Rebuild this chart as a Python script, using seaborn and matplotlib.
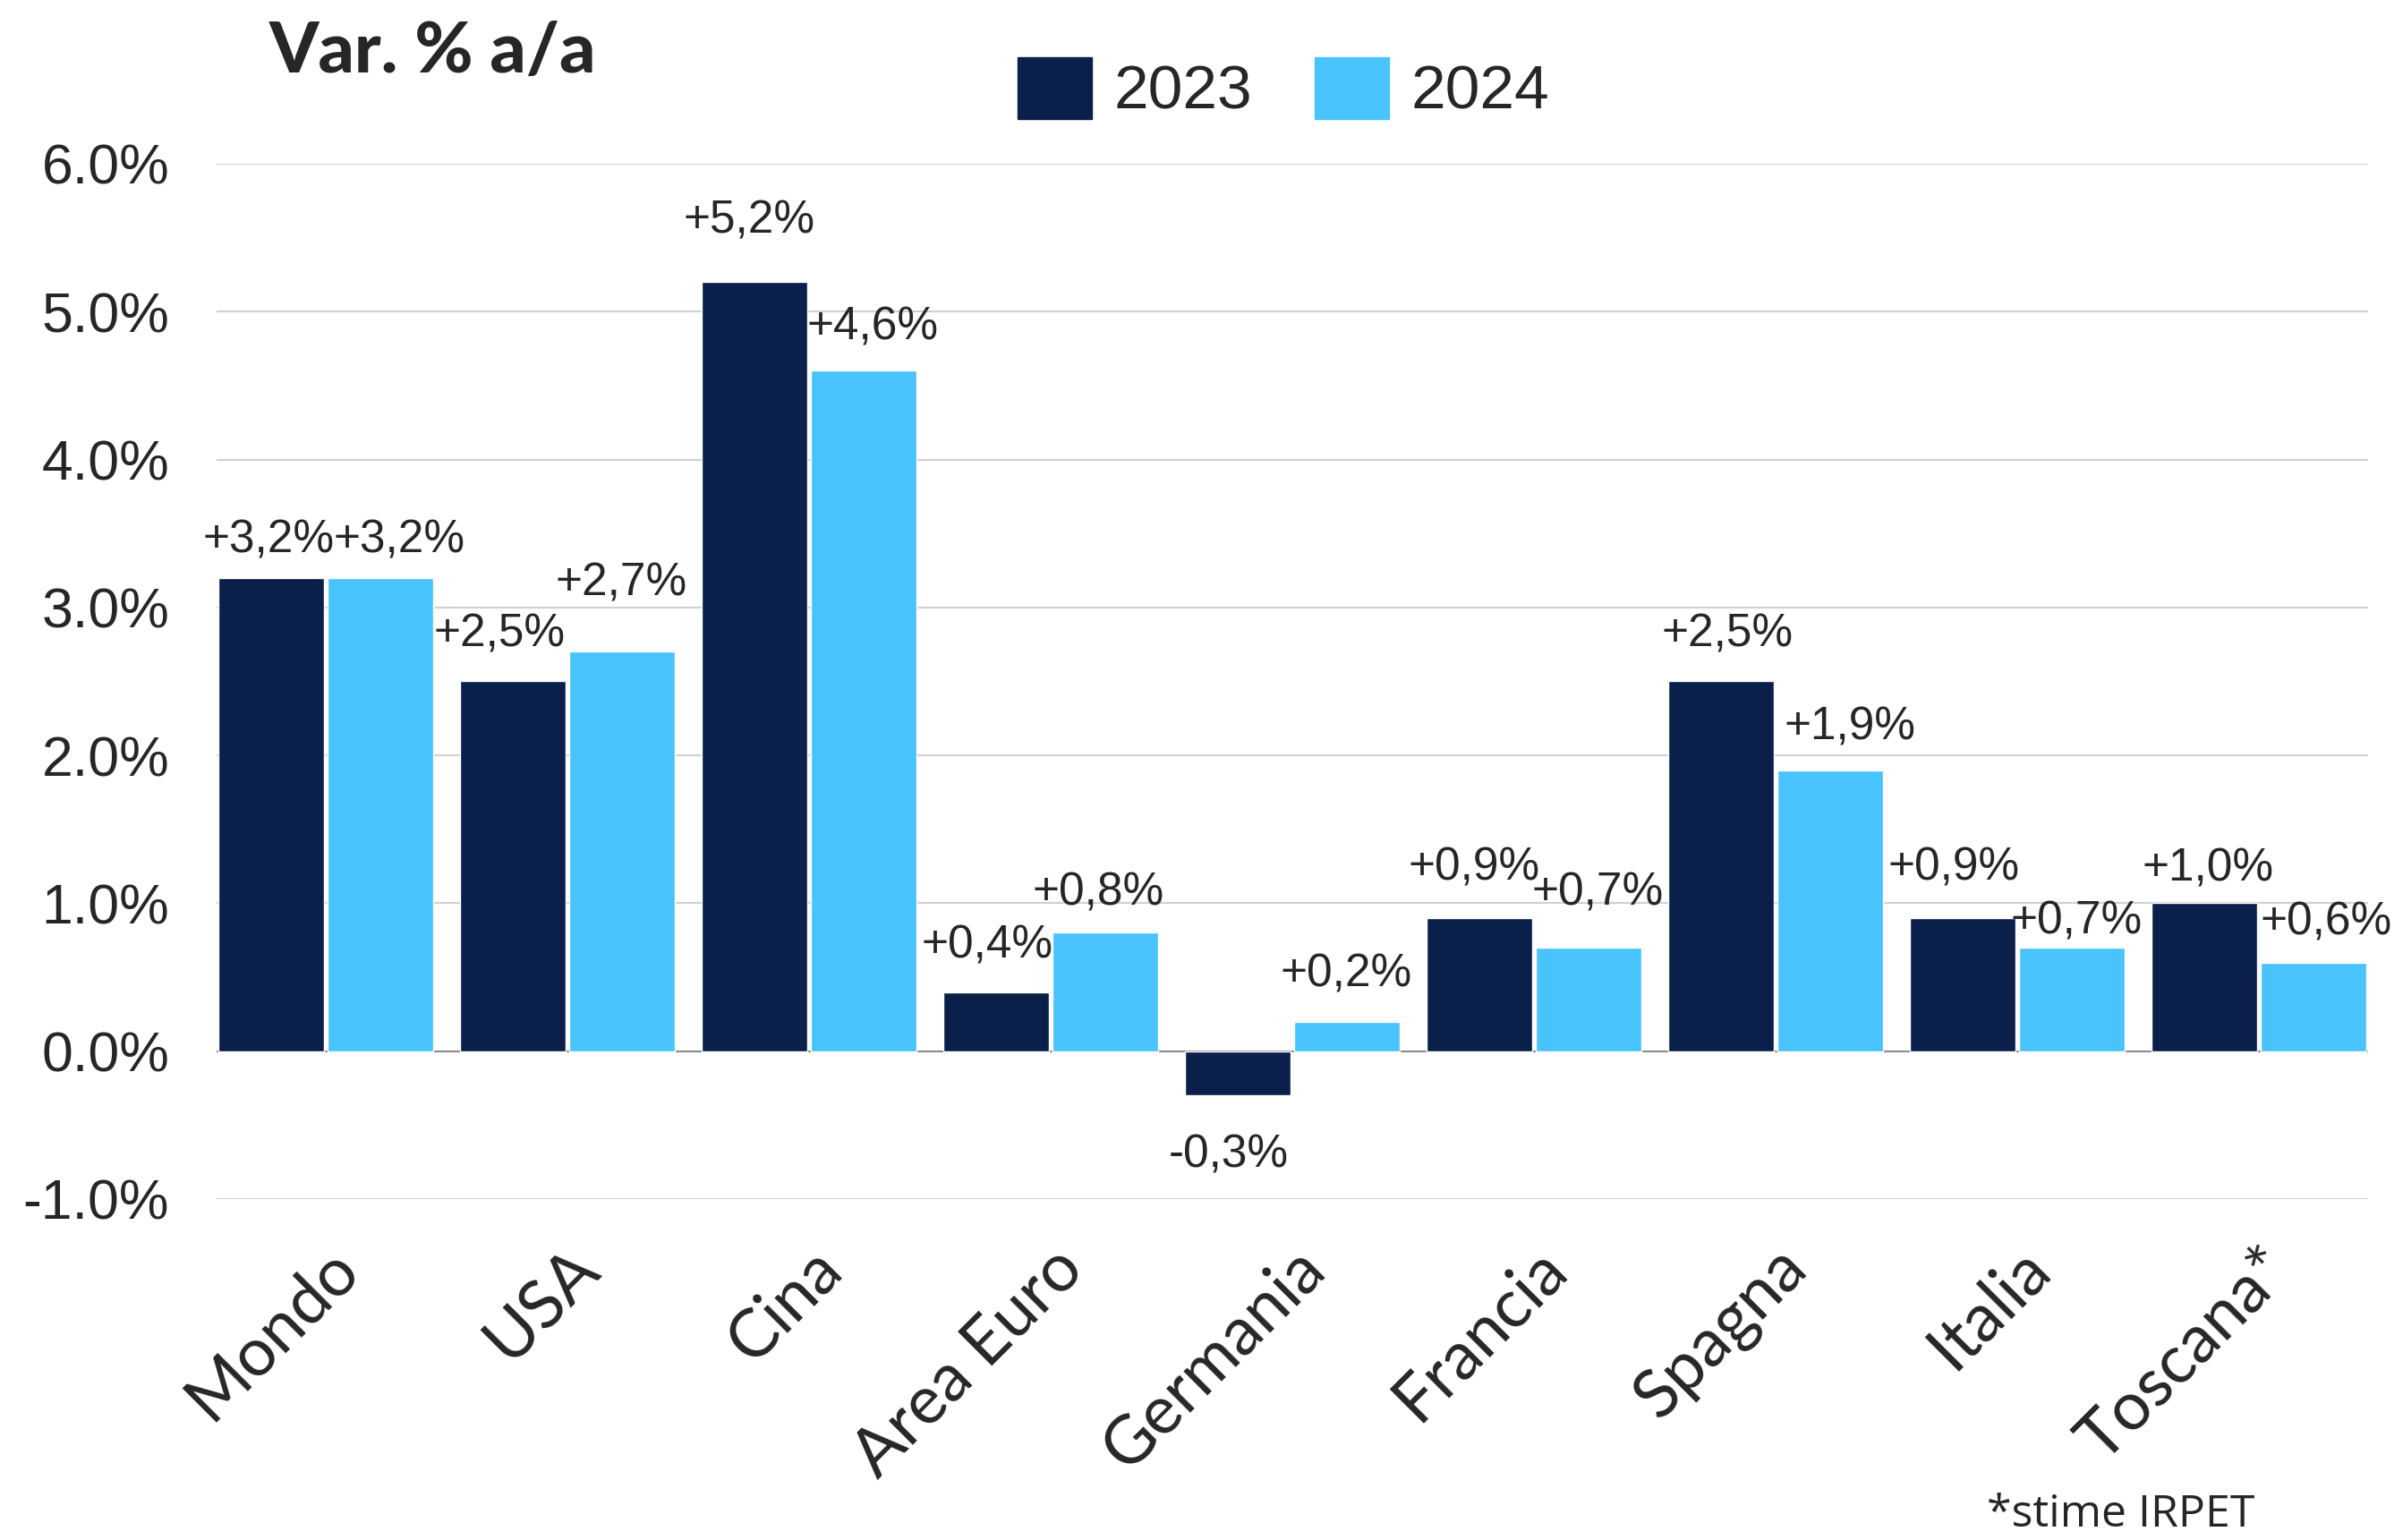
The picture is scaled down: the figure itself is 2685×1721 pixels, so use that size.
import matplotlib
matplotlib.use("Agg")
import matplotlib.pyplot as plt
import pandas as pd
import seaborn as sns
from matplotlib.patches import Patch

paesi = ["Mondo", "USA", "Cina", "Area Euro", "Germania", "Francia", "Spagna", "Italia", "Toscana*"]
anni = ["2023", "2024"]
valori_2023 = [3.2, 2.5, 5.2, 0.4, -0.3, 0.9, 2.5, 0.9, 1.0]
valori_2024 = [3.2, 2.7, 4.6, 0.8, 0.2, 0.7, 1.9, 0.7, 0.6]
y_ticks = [-1, 0, 1, 2, 3, 4, 5, 6]

# label nudges (points), the labels in the original are hand placed
dx_2023 = [-2, -11, -4, -7, -7, -4, 5, -7, 3]
dy_2023 = [30, 38, 49, 37, -48, 40, 38, 40, 28]
dx_2024 = [15, -1, 7, -6, -1, 7, 16, 4, 10]
dy_2024 = [30, 55, 35, 32, 38, 44, 34, 21, 32]

DARK = "#0A1F4A"
LIGHT = "#48C3FC"

df = pd.DataFrame({
    "paese": paesi * 2,
    "anno": [anni[0]] * len(paesi) + [anni[1]] * len(paesi),
    "valore": valori_2023 + valori_2024,
})

sns.set_style("white")
plt.rcParams["font.family"] = ["Liberation Sans", "DejaVu Sans"]

fig = plt.figure(figsize=(26.85, 17.21), dpi=100)
ax = fig.add_axes([0.0901, 0.2214, 0.8954, 0.6723])

ax.axhline(0, color="#8c8c8c", lw=1.5, zorder=1)
sns.barplot(data=df, x="paese", y="valore", hue="anno", palette=[DARK, LIGHT],
            width=0.905, gap=0.03, saturation=1, ax=ax, zorder=2)

# value labels
series = [(valori_2023, dx_2023, dy_2023), (valori_2024, dx_2024, dy_2024)]
for cont, (vals, dxs, dys) in zip(ax.containers, series):
    for bar, v, dx, dy in zip(cont.patches, vals, dxs, dys):
        xc = bar.get_x() + bar.get_width() / 2
        ax.annotate(f"{v:+.1f}%".replace(".", ","), (xc, v), xytext=(dx, dy),
                    textcoords="offset points", ha="center", va="center", fontsize=37)

ax.set_ylim(-1, 6)
ax.set_xlim(-0.4525, len(paesi) - 1 + 0.4525)
ax.set_yticks(y_ticks)
ax.set_yticklabels([f"{v:.1f}%" for v in y_ticks], fontsize=45)
ax.yaxis.grid(True, color="#d0d0d0", lw=1.5, zorder=0)
ax.set_axisbelow(True)
ax.tick_params(axis="y", length=0, pad=38)
ax.tick_params(axis="x", length=0, pad=30)
ax.set_xticks(range(len(paesi)))
ax.set_xticklabels(paesi, rotation=45, ha="right", rotation_mode="anchor",
                   fontsize=54, family=["Lato", "DejaVu Sans"])
ax.set_xlabel("")
ax.set_ylabel("")
sns.despine(ax=ax, left=True, bottom=True)

ax.legend_.remove()
handles = [Patch(color=DARK), Patch(color=LIGHT)]
fig.legend(handles, anni, loc="center", bbox_to_anchor=(0.534, 0.942), ncol=2,
           frameon=False, fontsize=50, handlelength=1.2, handleheight=1.15,
           handletextpad=0.35, columnspacing=1.0)

fig.text(0.1121, 0.966, "Var. % a/a", fontsize=57, fontweight="black",
         family=["Lato", "DejaVu Sans"], va="center", ha="left")
fig.text(0.827, 0.016, "*stime IRPET", fontsize=36,
         family=["Open Sans", "DejaVu Sans"], va="center", ha="left")

fig.savefig("out.png", dpi=100)
